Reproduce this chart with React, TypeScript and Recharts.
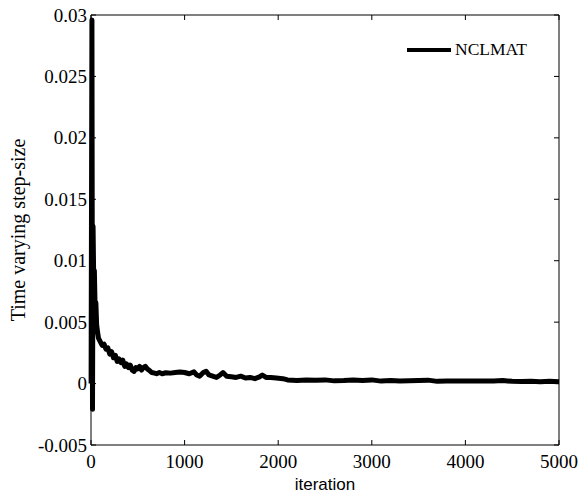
import React from 'react';
import { LineChart, Line, XAxis, YAxis, Legend, ReferenceLine } from 'recharts';

const seriesName = 'NCLMAT';
const xLabel = 'iteration';
const yLabel = 'Time varying step-size';

const iterations = [
  1, 10, 16, 22, 30, 36, 44, 52, 60, 70, 80, 100, 120, 140, 160, 180, 200, 220, 240, 260,
  280, 300, 320, 340, 360, 380, 400, 420, 440, 460, 480, 500, 520, 540, 560, 580, 600, 620,
  650, 680, 700, 730, 760, 800, 850, 900, 950, 1000, 1050, 1100, 1130, 1160, 1200, 1230,
  1260, 1300, 1340, 1380, 1410, 1450, 1500, 1550, 1600, 1650, 1700, 1750, 1800, 1830, 1870,
  1920, 1980, 2050, 2100, 2200, 2300, 2400, 2500, 2600, 2700, 2800, 2900, 3000, 3100, 3200,
  3300, 3400, 3500, 3600, 3700, 3800, 3900, 4000, 4100, 4200, 4300, 4400, 4500, 4600, 4700,
  4800, 4900, 5000,
];

const stepSizes = [
  0.0, 0.0296, -0.0021, 0.0128, 0.0078, 0.0092, 0.006, 0.0066, 0.0048, 0.0042, 0.0037, 0.0034,
  0.0031, 0.0032, 0.0028, 0.0029, 0.0024, 0.0026, 0.0021, 0.0023, 0.0018, 0.002, 0.0017, 0.0019,
  0.0014, 0.0016, 0.0013, 0.0015, 0.0011, 0.001, 0.0013, 0.0012, 0.0014, 0.0011, 0.0013, 0.0014,
  0.0012, 0.0011, 0.0009, 0.00085, 0.0008, 0.0009, 0.0008, 0.00088, 0.00085, 0.0009, 0.00095,
  0.0009, 0.0008, 0.00095, 0.0007, 0.0006, 0.0009, 0.001, 0.0007, 0.0006, 0.0005, 0.0007, 0.0009,
  0.0006, 0.00055, 0.0005, 0.0006, 0.00045, 0.0005, 0.0004, 0.00055, 0.0007, 0.0005, 0.0005,
  0.00045, 0.0004, 0.0003, 0.00025, 0.0003, 0.00028, 0.0003, 0.00022, 0.00025, 0.0003, 0.00025,
  0.0003, 0.0002, 0.00025, 0.0002, 0.00022, 0.00025, 0.00028, 0.00018, 0.0002, 0.0002, 0.0002,
  0.0002, 0.0002, 0.0002, 0.00025, 0.00018, 0.00016, 0.00018, 0.00015, 0.00018, 0.00015,
];

const xTicks = [0, 1000, 2000, 3000, 4000, 5000];
const xTickLabels = ['0', '1000', '2000', '3000', '4000', '5000'];
const yTicks = [-0.005, 0, 0.005, 0.01, 0.015, 0.02, 0.025, 0.03];
const yTickLabels = ['-0.005', '0', '0.005', '0.01', '0.015', '0.02', '0.025', '0.03'];

const data = iterations.map((it, i) => ({ iteration: it, value: stepSizes[i] }));

const serif = '"Liberation Serif", "Times New Roman", serif';
const sans = '"Liberation Sans", Arial, sans-serif';

const YTick = (props: any) => {
  const { x, y, payload } = props;
  const idx = yTicks.indexOf(payload.value);
  return (
    <text x={x} y={y} textAnchor="end" dominantBaseline="central"
      fontFamily={serif} fontSize={19} fill="#000">
      {idx >= 0 ? yTickLabels[idx] : String(payload.value)}
    </text>
  );
};

const EmptyTick = () => <g />;

const makeXTickLabel = (text: string) => (props: any) => {
  const vb = props.viewBox || { x: 0, y: 15, width: 0, height: 430 };
  return (
    <text x={vb.x} y={vb.y + vb.height + 16} textAnchor="middle" dominantBaseline="central"
      fontFamily={serif} fontSize={19} fill="#000">
      {text}
    </text>
  );
};

const LegendContent = () => (
  <div style={{ display: 'flex', alignItems: 'center', fontFamily: serif, fontSize: 17.5, color: '#000', whiteSpace: 'nowrap' }}>
    <span style={{ display: 'inline-block', width: 44, height: 4, background: '#000', marginRight: 4 }} />
    <span>{seriesName}</span>
  </div>
);

const XLabel = (props: any) => {
  const vb = props.viewBox || { x: 91, y: 445, width: 468, height: 52 };
  return (
    <text x={vb.x + vb.width / 2} y={vb.y + 39} textAnchor="middle" dominantBaseline="central"
      fontFamily={sans} fontSize={17} fill="#000">
      {xLabel}
    </text>
  );
};

const YLabel = (props: any) => {
  const vb = props.viewBox || { x: 0, y: 15, width: 91, height: 430 };
  const cx = vb.x + 18;
  const cy = vb.y + vb.height / 2;
  return (
    <text x={cx} y={cy} transform={`rotate(-90 ${cx} ${cy})`} textAnchor="middle" dominantBaseline="central"
      fontFamily={serif} fontSize={20} fill="#000">
      {yLabel}
    </text>
  );
};

export default function App() {
  return (
    <div style={{ position: 'absolute', left: 0, top: 0, width: 580, height: 497, background: '#fff' }}>
      <LineChart width={580} height={497} data={data} margin={{ top: 14, right: 20, left: 0, bottom: 0 }}>
        <XAxis xAxisId="bottom" dataKey="iteration" type="number" domain={[0, 5000]} ticks={xTicks}
          orientation="bottom" height={52} tickSize={-5} interval={0}
          axisLine={{ stroke: '#000' }} tickLine={{ stroke: '#000' }} tick={<EmptyTick />} label={<XLabel />} />
        <XAxis xAxisId="top" dataKey="iteration" type="number" domain={[0, 5000]} ticks={xTicks}
          orientation="top" height={1} tickSize={-5} interval={0}
          axisLine={{ stroke: '#000' }} tickLine={{ stroke: '#000' }} tick={<EmptyTick />} />
        <YAxis yAxisId="left" type="number" domain={[-0.005, 0.03]} ticks={yTicks} width={91}
          tickSize={-5} tickMargin={9} interval={0} allowDataOverflow
          axisLine={{ stroke: '#000' }} tickLine={{ stroke: '#000' }} tick={<YTick />} label={<YLabel />} />
        <YAxis yAxisId="right" orientation="right" type="number" domain={[-0.005, 0.03]} ticks={yTicks} width={1}
          tickSize={-5} interval={0} allowDataOverflow
          axisLine={{ stroke: '#000' }} tickLine={{ stroke: '#000' }} tick={<EmptyTick />} />
        {xTicks.map((v, i) => (
          <ReferenceLine key={v} x={v} xAxisId="bottom" yAxisId="left" stroke="none" ifOverflow="visible"
            label={makeXTickLabel(xTickLabels[i])} />
        ))}
        <Legend layout="horizontal" verticalAlign="middle" align="center" content={<LegendContent />}
          wrapperStyle={{ left: 407, top: 39, width: 'auto', height: 'auto' }} />
        <Line xAxisId="bottom" yAxisId="left" type="linear" dataKey="value" name={seriesName}
          stroke="#000" strokeWidth={5} strokeLinejoin="round" dot={false} isAnimationActive={false} />
      </LineChart>
    </div>
  );
}
